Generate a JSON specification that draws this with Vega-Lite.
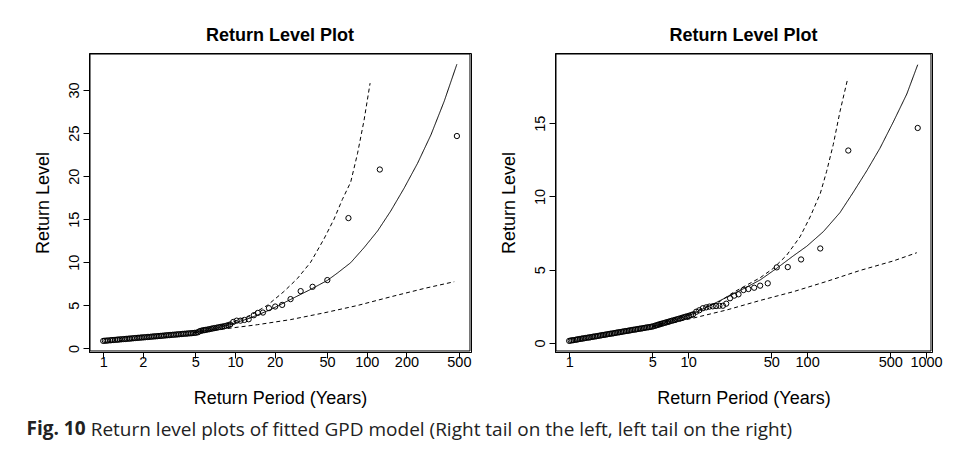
{
"$schema": "https://vega.github.io/schema/vega-lite/v6.json",
"background": "white",
"padding": {"left": 26, "top": 26, "right": 5, "bottom": 5},
"title": {"text": "Fig. 10", "subtitle": "\u200b\u00a0\u00a0\u00a0\u00a0\u00a0\u00a0\u00a0\u00a0\u00a0\u00a0\u00a0\u00a0\u00a0Return level plots of fitted GPD model (Right tail on the left, left tail on the right)", "orient": "bottom", "anchor": "start", "font": "Open Sans", "fontSize": 19, "fontWeight": "bold", "color": "#222", "subtitleFont": "Open Sans", "subtitleFontSize": 19, "subtitleFontWeight": "normal", "subtitleColor": "#222", "subtitlePadding": -18, "offset": 12, "dx": -7},
"config": {
  "view": {"stroke": "black", "strokeWidth": 1},
  "font": "Liberation Sans",
  "axis": {"domain": true, "domainColor": "black", "domainWidth": 1, "grid": false, "tickColor": "black", "tickSize": 6, "labelFont": "Liberation Sans", "labelFontSize": 14.5, "labelColor": "black", "titleFont": "Liberation Sans", "titleFontSize": 18, "titleFontWeight": "normal", "titleColor": "black", "labelPadding": 2},
  "axisX": {"titlePadding": 21, "labelPadding": -3},
  "axisY": {"titlePadding": 14, "labelAngle": -90, "labelAlign": "center", "labelBaseline": "bottom"},
  "title": {"font": "Liberation Sans", "fontSize": 18, "fontWeight": "bold", "color": "black", "offset": 8}
},
"datasets": {
"leftbox": [{"a":0.794,"b":-0.30,"a2":607,"b2":-0.30},{"a":0.794,"b":34.18,"a2":607,"b2":34.18},{"a":0.794,"b":-0.30,"a2":0.794,"b2":34.18},{"a":607,"b":-0.30,"a2":607,"b2":34.18}],
"rightbox": [{"a":0.775,"b":-0.55,"a2":1100,"b2":-0.55},{"a":0.775,"b":19.73,"a2":1100,"b2":19.73},{"a":0.775,"b":-0.55,"a2":0.775,"b2":19.73},{"a":1100,"b":-0.55,"a2":1100,"b2":19.73}],
"left": [
{"T":1.00,"v":0.87,"s":"obs"},{"T":1.03,"v":0.89,"s":"obs"},{"T":1.06,"v":0.90,"s":"obs"},{"T":1.09,"v":0.92,"s":"obs"},{"T":1.13,"v":0.94,"s":"obs"},{"T":1.16,"v":0.96,"s":"obs"},{"T":1.19,"v":0.97,"s":"obs"},{"T":1.23,"v":0.99,"s":"obs"},{"T":1.27,"v":1.01,"s":"obs"},{"T":1.30,"v":1.02,"s":"obs"},{"T":1.34,"v":1.04,"s":"obs"},{"T":1.38,"v":1.06,"s":"obs"},{"T":1.43,"v":1.08,"s":"obs"},{"T":1.47,"v":1.09,"s":"obs"},{"T":1.51,"v":1.11,"s":"obs"},{"T":1.56,"v":1.13,"s":"obs"},{"T":1.60,"v":1.14,"s":"obs"},{"T":1.65,"v":1.16,"s":"obs"},{"T":1.70,"v":1.18,"s":"obs"},{"T":1.75,"v":1.20,"s":"obs"},{"T":1.81,"v":1.22,"s":"obs"},{"T":1.86,"v":1.23,"s":"obs"},{"T":1.92,"v":1.25,"s":"obs"},{"T":1.97,"v":1.27,"s":"obs"},{"T":2.03,"v":1.28,"s":"obs"},{"T":2.09,"v":1.30,"s":"obs"},{"T":2.16,"v":1.32,"s":"obs"},{"T":2.22,"v":1.33,"s":"obs"},{"T":2.29,"v":1.35,"s":"obs"},{"T":2.36,"v":1.37,"s":"obs"},{"T":2.43,"v":1.39,"s":"obs"},{"T":2.50,"v":1.40,"s":"obs"},{"T":2.58,"v":1.42,"s":"obs"},{"T":2.65,"v":1.44,"s":"obs"},{"T":2.73,"v":1.45,"s":"obs"},{"T":2.81,"v":1.47,"s":"obs"},{"T":2.90,"v":1.49,"s":"obs"},{"T":2.99,"v":1.51,"s":"obs"},{"T":3.08,"v":1.53,"s":"obs"},{"T":3.17,"v":1.54,"s":"obs"},{"T":3.26,"v":1.56,"s":"obs"},{"T":3.36,"v":1.58,"s":"obs"},{"T":3.46,"v":1.59,"s":"obs"},{"T":3.57,"v":1.61,"s":"obs"},{"T":3.67,"v":1.63,"s":"obs"},{"T":3.78,"v":1.64,"s":"obs"},{"T":3.90,"v":1.66,"s":"obs"},{"T":4.01,"v":1.68,"s":"obs"},{"T":4.13,"v":1.70,"s":"obs"},{"T":4.26,"v":1.71,"s":"obs"},{"T":4.38,"v":1.73,"s":"obs"},{"T":4.52,"v":1.75,"s":"obs"},{"T":4.65,"v":1.76,"s":"obs"},{"T":4.79,"v":1.78,"s":"obs"},{"T":4.93,"v":1.80,"s":"obs"},{"T":5.08,"v":1.82,"s":"obs"},
{"T":5.25,"v":1.88,"s":"obs"},{"T":5.40,"v":2.00,"s":"obs"},{"T":5.55,"v":2.05,"s":"obs"},{"T":5.70,"v":2.09,"s":"obs"},{"T":5.85,"v":2.12,"s":"obs"},{"T":6.00,"v":2.15,"s":"obs"},{"T":6.20,"v":2.19,"s":"obs"},{"T":6.40,"v":2.23,"s":"obs"},{"T":6.60,"v":2.28,"s":"obs"},{"T":6.80,"v":2.32,"s":"obs"},{"T":7.00,"v":2.36,"s":"obs"},{"T":7.25,"v":2.40,"s":"obs"},{"T":7.50,"v":2.45,"s":"obs"},{"T":7.75,"v":2.49,"s":"obs"},{"T":8.00,"v":2.53,"s":"obs"},{"T":8.30,"v":2.58,"s":"obs"},{"T":8.60,"v":2.63,"s":"obs"},{"T":8.90,"v":2.70,"s":"obs"},{"T":9.20,"v":2.78,"s":"obs"},
{"T":9.7,"v":3.07,"s":"obs"},{"T":10.3,"v":3.22,"s":"obs"},{"T":11.0,"v":3.22,"s":"obs"},{"T":11.8,"v":3.30,"s":"obs"},{"T":12.7,"v":3.38,"s":"obs"},{"T":13.9,"v":3.85,"s":"obs"},{"T":14.9,"v":4.12,"s":"obs"},{"T":16.3,"v":4.16,"s":"obs"},{"T":18.1,"v":4.67,"s":"obs"},{"T":20.2,"v":4.86,"s":"obs"},{"T":22.8,"v":5.05,"s":"obs"},{"T":26.4,"v":5.72,"s":"obs"},{"T":31.5,"v":6.65,"s":"obs"},{"T":38.8,"v":7.15,"s":"obs"},{"T":50.2,"v":7.93,"s":"obs"},{"T":72.6,"v":15.13,"s":"obs"},{"T":125.6,"v":20.77,"s":"obs"},{"T":483,"v":24.66,"s":"obs"},
{"T":4.8,"v":1.80,"s":"fit"},{"T":6.5,"v":2.18,"s":"fit"},{"T":9.25,"v":2.77,"s":"fit"},{"T":13.1,"v":3.54,"s":"fit"},{"T":18.6,"v":4.50,"s":"fit"},{"T":26.4,"v":5.68,"s":"fit"},{"T":37.5,"v":6.85,"s":"fit"},{"T":50.3,"v":7.90,"s":"fit"},{"T":59.9,"v":8.75,"s":"fit"},{"T":75.5,"v":9.95,"s":"fit"},{"T":95.4,"v":11.7,"s":"fit"},{"T":121,"v":13.65,"s":"fit"},{"T":152,"v":15.95,"s":"fit"},{"T":192,"v":18.6,"s":"fit"},{"T":243,"v":21.5,"s":"fit"},{"T":307,"v":24.8,"s":"fit"},{"T":387,"v":28.7,"s":"fit"},{"T":483,"v":33.0,"s":"fit"},
{"T":4.8,"v":1.85,"s":"upper"},{"T":6.5,"v":2.35,"s":"upper"},{"T":9.25,"v":2.95,"s":"upper"},{"T":13.1,"v":3.85,"s":"upper"},{"T":17.6,"v":5.0,"s":"upper"},{"T":23.5,"v":6.6,"s":"upper"},{"T":29.7,"v":8.1,"s":"upper"},{"T":37.5,"v":10.0,"s":"upper"},{"T":47.3,"v":12.7,"s":"upper"},{"T":56.4,"v":15.0,"s":"upper"},{"T":65.3,"v":17.3,"s":"upper"},{"T":75.5,"v":19.3,"s":"upper"},{"T":85,"v":22.6,"s":"upper"},{"T":95.4,"v":26.5,"s":"upper"},{"T":106,"v":30.8,"s":"upper"},
{"T":4.8,"v":1.78,"s":"lower"},{"T":8.2,"v":2.25,"s":"lower"},{"T":14.8,"v":2.75,"s":"lower"},{"T":26.4,"v":3.34,"s":"lower"},{"T":47.3,"v":4.12,"s":"lower"},{"T":85,"v":4.98,"s":"lower"},{"T":152,"v":5.99,"s":"lower"},{"T":273,"v":6.96,"s":"lower"},{"T":461,"v":7.74,"s":"lower"}
],
"right": [
{"T":1.00,"v":0.14,"s":"obs"},{"T":1.03,"v":0.16,"s":"obs"},{"T":1.06,"v":0.18,"s":"obs"},{"T":1.09,"v":0.19,"s":"obs"},{"T":1.13,"v":0.21,"s":"obs"},{"T":1.16,"v":0.23,"s":"obs"},{"T":1.19,"v":0.25,"s":"obs"},{"T":1.23,"v":0.27,"s":"obs"},{"T":1.27,"v":0.29,"s":"obs"},{"T":1.30,"v":0.30,"s":"obs"},{"T":1.34,"v":0.32,"s":"obs"},{"T":1.38,"v":0.34,"s":"obs"},{"T":1.43,"v":0.36,"s":"obs"},{"T":1.47,"v":0.37,"s":"obs"},{"T":1.51,"v":0.39,"s":"obs"},{"T":1.56,"v":0.41,"s":"obs"},{"T":1.60,"v":0.43,"s":"obs"},{"T":1.65,"v":0.44,"s":"obs"},{"T":1.70,"v":0.46,"s":"obs"},{"T":1.75,"v":0.48,"s":"obs"},{"T":1.81,"v":0.50,"s":"obs"},{"T":1.86,"v":0.52,"s":"obs"},{"T":1.92,"v":0.54,"s":"obs"},{"T":1.97,"v":0.55,"s":"obs"},{"T":2.03,"v":0.57,"s":"obs"},{"T":2.09,"v":0.59,"s":"obs"},{"T":2.16,"v":0.61,"s":"obs"},{"T":2.22,"v":0.63,"s":"obs"},{"T":2.29,"v":0.64,"s":"obs"},{"T":2.36,"v":0.66,"s":"obs"},{"T":2.43,"v":0.68,"s":"obs"},{"T":2.50,"v":0.70,"s":"obs"},{"T":2.58,"v":0.72,"s":"obs"},{"T":2.65,"v":0.73,"s":"obs"},{"T":2.73,"v":0.75,"s":"obs"},{"T":2.81,"v":0.77,"s":"obs"},{"T":2.90,"v":0.79,"s":"obs"},{"T":2.99,"v":0.81,"s":"obs"},{"T":3.08,"v":0.82,"s":"obs"},{"T":3.17,"v":0.84,"s":"obs"},{"T":3.26,"v":0.86,"s":"obs"},{"T":3.36,"v":0.88,"s":"obs"},{"T":3.46,"v":0.90,"s":"obs"},{"T":3.57,"v":0.91,"s":"obs"},{"T":3.67,"v":0.93,"s":"obs"},{"T":3.78,"v":0.95,"s":"obs"},{"T":3.90,"v":0.97,"s":"obs"},{"T":4.01,"v":0.98,"s":"obs"},{"T":4.13,"v":1.00,"s":"obs"},{"T":4.26,"v":1.02,"s":"obs"},{"T":4.38,"v":1.04,"s":"obs"},{"T":4.52,"v":1.06,"s":"obs"},{"T":4.65,"v":1.07,"s":"obs"},{"T":4.79,"v":1.09,"s":"obs"},{"T":4.93,"v":1.11,"s":"obs"},{"T":5.08,"v":1.13,"s":"obs"},
{"T":5.25,"v":1.17,"s":"obs"},{"T":5.40,"v":1.20,"s":"obs"},{"T":5.55,"v":1.23,"s":"obs"},{"T":5.70,"v":1.26,"s":"obs"},{"T":5.85,"v":1.29,"s":"obs"},{"T":6.00,"v":1.31,"s":"obs"},{"T":6.20,"v":1.35,"s":"obs"},{"T":6.40,"v":1.38,"s":"obs"},{"T":6.60,"v":1.41,"s":"obs"},{"T":6.80,"v":1.44,"s":"obs"},{"T":7.00,"v":1.47,"s":"obs"},{"T":7.25,"v":1.51,"s":"obs"},{"T":7.50,"v":1.54,"s":"obs"},{"T":7.75,"v":1.57,"s":"obs"},{"T":8.00,"v":1.61,"s":"obs"},{"T":8.30,"v":1.64,"s":"obs"},{"T":8.60,"v":1.68,"s":"obs"},{"T":8.90,"v":1.72,"s":"obs"},{"T":9.20,"v":1.75,"s":"obs"},{"T":9.50,"v":1.79,"s":"obs"},{"T":9.85,"v":1.82,"s":"obs"},{"T":10.2,"v":1.86,"s":"obs"},{"T":10.6,"v":1.90,"s":"obs"},{"T":11.0,"v":1.95,"s":"obs"},
{"T":11.7,"v":2.13,"s":"obs"},{"T":12.4,"v":2.23,"s":"obs"},{"T":13.3,"v":2.37,"s":"obs"},{"T":14.2,"v":2.43,"s":"obs"},{"T":15.1,"v":2.48,"s":"obs"},{"T":16.1,"v":2.50,"s":"obs"},{"T":17.2,"v":2.52,"s":"obs"},{"T":18.3,"v":2.54,"s":"obs"},{"T":19.6,"v":2.54,"s":"obs"},{"T":20.9,"v":2.68,"s":"obs"},{"T":22.5,"v":3.05,"s":"obs"},{"T":24.4,"v":3.23,"s":"obs"},{"T":26.5,"v":3.32,"s":"obs"},{"T":29.2,"v":3.61,"s":"obs"},{"T":32.1,"v":3.68,"s":"obs"},{"T":35.9,"v":3.77,"s":"obs"},{"T":40.3,"v":3.91,"s":"obs"},{"T":46.7,"v":4.07,"s":"obs"},{"T":55.6,"v":5.16,"s":"obs"},{"T":68.8,"v":5.18,"s":"obs"},{"T":89,"v":5.70,"s":"obs"},{"T":129,"v":6.45,"s":"obs"},{"T":222,"v":13.14,"s":"obs"},{"T":851,"v":14.68,"s":"obs"},
{"T":5.0,"v":1.12,"s":"fit"},{"T":7.3,"v":1.50,"s":"fit"},{"T":11.1,"v":2.0,"s":"fit"},{"T":15.3,"v":2.55,"s":"fit"},{"T":21.1,"v":3.12,"s":"fit"},{"T":29.2,"v":3.70,"s":"fit"},{"T":40.3,"v":4.30,"s":"fit"},{"T":55.6,"v":5.10,"s":"fit"},{"T":76.7,"v":5.95,"s":"fit"},{"T":99.3,"v":6.6,"s":"fit"},{"T":137,"v":7.6,"s":"fit"},{"T":189,"v":8.9,"s":"fit"},{"T":245,"v":10.3,"s":"fit"},{"T":317,"v":11.75,"s":"fit"},{"T":410,"v":13.3,"s":"fit"},{"T":531,"v":15.1,"s":"fit"},{"T":689,"v":17.0,"s":"fit"},{"T":851,"v":19.0,"s":"fit"},
{"T":5.0,"v":1.13,"s":"upper"},{"T":11.1,"v":2.1,"s":"upper"},{"T":18.6,"v":2.85,"s":"upper"},{"T":24,"v":3.45,"s":"upper"},{"T":31.1,"v":3.95,"s":"upper"},{"T":40.3,"v":4.45,"s":"upper"},{"T":52.1,"v":5.1,"s":"upper"},{"T":67.5,"v":6.0,"s":"upper"},{"T":87.3,"v":7.25,"s":"upper"},{"T":106,"v":8.6,"s":"upper"},{"T":129,"v":10.2,"s":"upper"},{"T":146,"v":11.72,"s":"upper"},{"T":166,"v":13.55,"s":"upper"},{"T":189,"v":15.8,"s":"upper"},{"T":220,"v":18.09,"s":"upper"},
{"T":5.0,"v":1.10,"s":"lower"},{"T":5.8,"v":1.20,"s":"lower"},{"T":11.1,"v":1.70,"s":"lower"},{"T":21.1,"v":2.25,"s":"lower"},{"T":40.3,"v":2.90,"s":"lower"},{"T":76.7,"v":3.50,"s":"lower"},{"T":146,"v":4.20,"s":"lower"},{"T":279,"v":4.95,"s":"lower"},{"T":531,"v":5.60,"s":"lower"},{"T":836,"v":6.16,"s":"lower"}
]
},
"spacing": 27,
"hconcat": [
{
  "width": 382, "height": 299,
  "title": "Return Level Plot",
  "layer": [
    {"data": {"name": "left"}, "transform": [{"filter": "datum.s !== 'obs'"}], "mark": {"type": "line", "color": "black", "strokeWidth": 1},
     "encoding": {
      "x": {"field": "T", "type": "quantitative", "scale": {"type": "log", "domain": [0.78, 618], "nice": false}, "axis": {"values": [1,2,5,10,20,50,100,200,500], "format": "d", "title": "Return Period (Years)"}},
      "y": {"field": "v", "type": "quantitative", "scale": {"domain": [-0.42, 34.3], "nice": false, "zero": false}, "axis": {"values": [0,5,10,15,20,25,30], "title": "Return Level"}},
      "detail": {"field": "s"},
      "strokeDash": {"field": "s", "type": "nominal", "scale": {"domain": ["fit","upper","lower"], "range": [[1,0],[4,3],[4,3]]}, "legend": null}}},
    {"data": {"name": "left"}, "transform": [{"filter": "datum.s === 'obs'"}], "mark": {"type": "point", "shape": "circle", "filled": false, "color": "black", "size": 28, "strokeWidth": 1, "opacity": 1},
     "encoding": {
      "x": {"field": "T", "type": "quantitative"},
      "y": {"field": "v", "type": "quantitative"}}},
    {"data": {"name": "leftbox"},
     "mark": {"type": "rule", "color": "black", "strokeWidth": 1},
     "encoding": {
      "x": {"field": "a", "type": "quantitative"},
      "x2": {"field": "a2"},
      "y": {"field": "b", "type": "quantitative"},
      "y2": {"field": "b2"}}}
  ]
},
{
  "width": 377, "height": 299,
  "title": "Return Level Plot",
  "layer": [
    {"data": {"name": "right"}, "transform": [{"filter": "datum.s !== 'obs'"}], "mark": {"type": "line", "color": "black", "strokeWidth": 1},
     "encoding": {
      "x": {"field": "T", "type": "quantitative", "scale": {"type": "log", "domain": [0.76, 1122], "nice": false}, "axis": {"values": [1,5,10,50,100,500,1000], "format": "d", "title": "Return Period (Years)"}},
      "y": {"field": "v", "type": "quantitative", "scale": {"domain": [-0.62, 19.8], "nice": false, "zero": false}, "axis": {"values": [0,5,10,15], "title": "Return Level"}},
      "detail": {"field": "s"},
      "strokeDash": {"field": "s", "type": "nominal", "scale": {"domain": ["fit","upper","lower"], "range": [[1,0],[4,3],[4,3]]}, "legend": null}}},
    {"data": {"name": "right"}, "transform": [{"filter": "datum.s === 'obs'"}], "mark": {"type": "point", "shape": "circle", "filled": false, "color": "black", "size": 28, "strokeWidth": 1, "opacity": 1},
     "encoding": {
      "x": {"field": "T", "type": "quantitative"},
      "y": {"field": "v", "type": "quantitative"}}},
    {"data": {"name": "rightbox"},
     "mark": {"type": "rule", "color": "black", "strokeWidth": 1},
     "encoding": {
      "x": {"field": "a", "type": "quantitative"},
      "x2": {"field": "a2"},
      "y": {"field": "b", "type": "quantitative"},
      "y2": {"field": "b2"}}}
  ]
}
]
}
